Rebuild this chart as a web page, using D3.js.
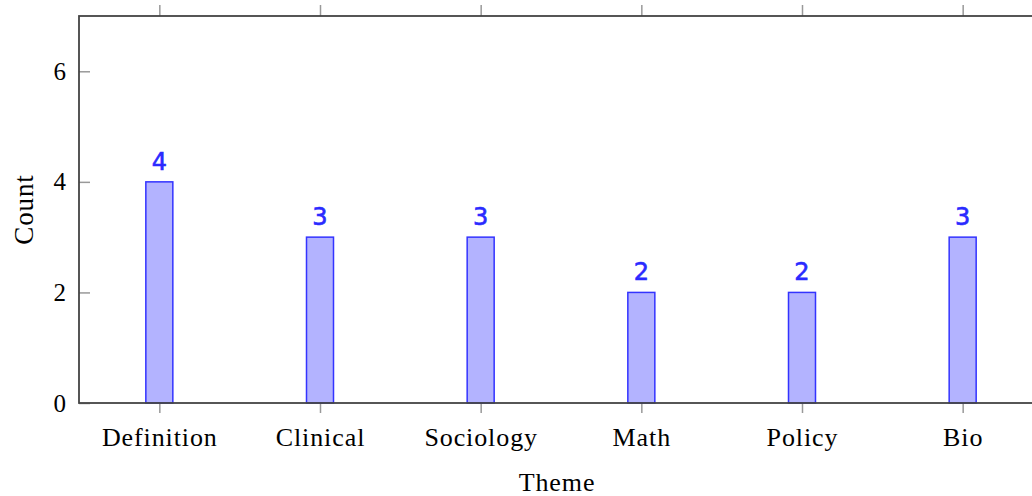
<!DOCTYPE html>
<html>
<head>
<meta charset="utf-8">
<script src="https://cdn.jsdelivr.net/npm/d3@7"></script>
<style>
  body { margin: 0; background: #fff; }
  text { font-family: "Liberation Serif", "Times New Roman", serif; }
</style>
</head>
<body>
<script>
//chart data
var themes = ["Definition", "Clinical", "Sociology", "Math", "Policy", "Bio"];
var counts = [4, 3, 3, 2, 2, 3];
var yTicks = [0, 2, 4, 6];

var width = 1032, height = 496;
var mLeft = 79, mRight = 1043, mTop = 16, mBottom = 403;

var svg = d3.select("body").append("svg")
  .attr("width", width)
  .attr("height", height);

var x = d3.scalePoint().domain(themes).range([mLeft, mRight]).padding(0.5);
var y = d3.scaleLinear().domain([0, 7]).range([mBottom, mTop]);

var tickColor = "#999", axisColor = "#444";

//bottom axis, ticks pointing out
var xBottom = svg.append("g")
  .attr("transform", "translate(0," + mBottom + ")")
  .call(d3.axisBottom(x).tickSize(10).tickPadding(15));
xBottom.select(".domain").remove();
xBottom.selectAll("line").attr("stroke", tickColor).attr("stroke-width", 1.5);
xBottom.selectAll("text")
  .attr("font-size", "26px")
  .attr("letter-spacing", "0.9px")
  .attr("fill", "#000")
  .attr("font-family", "Liberation Serif, serif");

//top ticks
var xTop = svg.append("g")
  .attr("transform", "translate(0," + mTop + ")")
  .call(d3.axisTop(x).tickSize(11).tickFormat(""));
xTop.select(".domain").remove();
xTop.selectAll("line").attr("stroke", tickColor).attr("stroke-width", 1.5);

//left axis, ticks inward
var yLeft = svg.append("g")
  .attr("transform", "translate(" + mLeft + ",0)")
  .call(d3.axisLeft(y).tickValues(yTicks).tickFormat(d3.format("d")).tickSize(-11).tickPadding(13));
yLeft.select(".domain").remove();
yLeft.selectAll("line").attr("stroke", tickColor).attr("stroke-width", 1.5);
yLeft.selectAll("text")
  .attr("font-size", "25px")
  .attr("fill", "#000")
  .attr("font-family", "Liberation Serif, serif");

//right ticks inward
var yRight = svg.append("g")
  .attr("transform", "translate(" + mRight + ",0)")
  .call(d3.axisRight(y).tickValues(yTicks).tickSize(-11).tickFormat(""));
yRight.select(".domain").remove();
yRight.selectAll("line").attr("stroke", tickColor).attr("stroke-width", 1.5);

//bars
var barW = 27;
svg.selectAll(".bar")
  .data(counts)
  .enter().append("rect")
  .attr("class", "bar")
  .attr("x", function(d, i) { return x(themes[i]) - barW / 2; })
  .attr("y", function(d) { return y(d); })
  .attr("width", barW)
  .attr("height", function(d) { return y(0) - y(d); })
  .attr("fill", "#b3b3ff")
  .attr("stroke", "#3333ff")
  .attr("stroke-width", 1.5);

//value labels
svg.selectAll(".val")
  .data(counts)
  .enter().append("text")
  .attr("class", "val")
  .attr("x", function(d, i) { return x(themes[i]); })
  .attr("y", function(d) { return y(d) - 12; })
  .attr("text-anchor", "middle")
  .attr("font-size", "24px")
  .attr("fill", "#2a2aff")
  .attr("stroke", "#2a2aff")
  .attr("stroke-width", 0.6)
  .style("font-family", "DejaVu Sans, sans-serif")
  .text(function(d) { return d; });

//axis frame
svg.append("rect")
  .attr("x", mLeft).attr("y", mTop)
  .attr("width", mRight - mLeft).attr("height", mBottom - mTop)
  .attr("fill", "none")
  .attr("stroke", axisColor)
  .attr("stroke-width", 1.8);

//axis titles
svg.append("text")
  .attr("x", (mLeft + mRight) / 2 - 4)
  .attr("y", 491)
  .attr("text-anchor", "middle")
  .attr("font-size", "26px")
  .attr("letter-spacing", "0.9px")
  .text("Theme");

svg.append("text")
  .attr("transform", "translate(33," + ((mTop + mBottom) / 2) + ") rotate(-90)")
  .attr("text-anchor", "middle")
  .attr("font-size", "27px")
  .attr("letter-spacing", "0.9px")
  .text("Count");
</script>
</body>
</html>
